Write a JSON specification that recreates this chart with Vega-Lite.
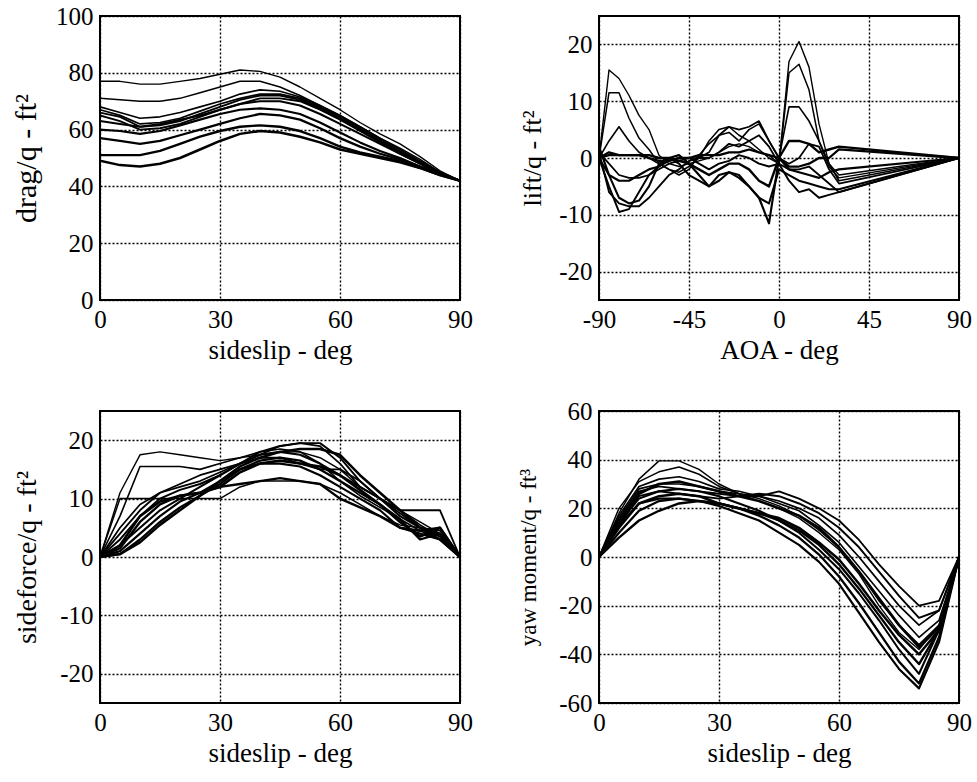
{
"$schema": "https://vega.github.io/schema/vega-lite/v6.json",
"background": "white",
"padding": {"left": 10, "top": 3, "right": 5, "bottom": 5},
"config": {
  "font": "Liberation Serif",
  "view": {"stroke": "black", "strokeWidth": 2},
  "axis": {"grid": true, "gridColor": "black", "gridDash": [2, 2], "gridWidth": 1.4, "gridOpacity": 1, "domain": false, "ticks": false,
    "labelFont": "Liberation Serif", "labelFontSize": 25, "labelColor": "black", "labelPadding": 7, "labelFlush": false, "labelOverlap": false, "labelExpr": "datum.value",
    "titleFont": "Liberation Serif", "titleFontSize": 27, "titleFontWeight": "normal", "titleColor": "black"},
  "axisX": {"titlePadding": 5},
  "line": {"color": "black", "strokeJoin": "round"}
},
"datasets": {
"drag": [
{"s":"a","x":0,"y":77},{"s":"a","x":5,"y":77},{"s":"a","x":10,"y":76},{"s":"a","x":15,"y":76},{"s":"a","x":20,"y":77},{"s":"a","x":25,"y":78},{"s":"a","x":30,"y":79.5},{"s":"a","x":35,"y":81},{"s":"a","x":40,"y":80.5},{"s":"a","x":45,"y":78.5},{"s":"a","x":50,"y":75},{"s":"a","x":55,"y":71},{"s":"a","x":60,"y":67},{"s":"a","x":65,"y":62.5},{"s":"a","x":70,"y":58.5},{"s":"a","x":75,"y":55},{"s":"a","x":80,"y":50.5},{"s":"a","x":85,"y":45.5},{"s":"a","x":90,"y":42},
{"s":"b","x":0,"y":71},{"s":"b","x":5,"y":70.5},{"s":"b","x":10,"y":70},{"s":"b","x":15,"y":70},{"s":"b","x":20,"y":71},{"s":"b","x":25,"y":73},{"s":"b","x":30,"y":75},{"s":"b","x":35,"y":77},{"s":"b","x":40,"y":77},{"s":"b","x":45,"y":75},{"s":"b","x":50,"y":72},{"s":"b","x":55,"y":68.5},{"s":"b","x":60,"y":65},{"s":"b","x":65,"y":61},{"s":"b","x":70,"y":57},{"s":"b","x":75,"y":53.5},{"s":"b","x":80,"y":49.5},{"s":"b","x":85,"y":45},{"s":"b","x":90,"y":42},
{"s":"c","x":0,"y":68},{"s":"c","x":5,"y":66},{"s":"c","x":10,"y":64},{"s":"c","x":15,"y":64.5},{"s":"c","x":20,"y":66},{"s":"c","x":25,"y":68},{"s":"c","x":30,"y":70},{"s":"c","x":35,"y":72.5},{"s":"c","x":40,"y":74},{"s":"c","x":45,"y":73.5},{"s":"c","x":50,"y":71.5},{"s":"c","x":55,"y":68.5},{"s":"c","x":60,"y":65},{"s":"c","x":65,"y":61},{"s":"c","x":70,"y":57},{"s":"c","x":75,"y":53},{"s":"c","x":80,"y":49},{"s":"c","x":85,"y":45},{"s":"c","x":90,"y":42},
{"s":"d","x":0,"y":67},{"s":"d","x":5,"y":65},{"s":"d","x":10,"y":62},{"s":"d","x":15,"y":62.5},{"s":"d","x":20,"y":64},{"s":"d","x":25,"y":66.5},{"s":"d","x":30,"y":69},{"s":"d","x":35,"y":71},{"s":"d","x":40,"y":72.5},{"s":"d","x":45,"y":72.5},{"s":"d","x":50,"y":71},{"s":"d","x":55,"y":68},{"s":"d","x":60,"y":64.5},{"s":"d","x":65,"y":60.5},{"s":"d","x":70,"y":56.5},{"s":"d","x":75,"y":52.5},{"s":"d","x":80,"y":48.5},{"s":"d","x":85,"y":45},{"s":"d","x":90,"y":42},
{"s":"e","x":0,"y":66},{"s":"e","x":5,"y":64.5},{"s":"e","x":10,"y":61},{"s":"e","x":15,"y":61.5},{"s":"e","x":20,"y":63},{"s":"e","x":25,"y":65.5},{"s":"e","x":30,"y":68},{"s":"e","x":35,"y":70.5},{"s":"e","x":40,"y":72},{"s":"e","x":45,"y":72},{"s":"e","x":50,"y":70.5},{"s":"e","x":55,"y":67.5},{"s":"e","x":60,"y":64},{"s":"e","x":65,"y":60},{"s":"e","x":70,"y":56},{"s":"e","x":75,"y":52},{"s":"e","x":80,"y":48.5},{"s":"e","x":85,"y":45},{"s":"e","x":90,"y":42},
{"s":"f","x":0,"y":65},{"s":"f","x":5,"y":63},{"s":"f","x":10,"y":60},{"s":"f","x":15,"y":60.5},{"s":"f","x":20,"y":62},{"s":"f","x":25,"y":64.5},{"s":"f","x":30,"y":67},{"s":"f","x":35,"y":69},{"s":"f","x":40,"y":71},{"s":"f","x":45,"y":71},{"s":"f","x":50,"y":70},{"s":"f","x":55,"y":67},{"s":"f","x":60,"y":63.5},{"s":"f","x":65,"y":59.5},{"s":"f","x":70,"y":55.5},{"s":"f","x":75,"y":51.5},{"s":"f","x":80,"y":48},{"s":"f","x":85,"y":44.5},{"s":"f","x":90,"y":42},
{"s":"g","x":0,"y":63},{"s":"g","x":5,"y":62},{"s":"g","x":10,"y":61},{"s":"g","x":15,"y":62},{"s":"g","x":20,"y":63.5},{"s":"g","x":25,"y":65},{"s":"g","x":30,"y":67},{"s":"g","x":35,"y":69},{"s":"g","x":40,"y":70},{"s":"g","x":45,"y":70},{"s":"g","x":50,"y":68.5},{"s":"g","x":55,"y":65.5},{"s":"g","x":60,"y":62},{"s":"g","x":65,"y":58.5},{"s":"g","x":70,"y":55},{"s":"g","x":75,"y":51.5},{"s":"g","x":80,"y":48},{"s":"g","x":85,"y":44.5},{"s":"g","x":90,"y":42},
{"s":"h","x":0,"y":60},{"s":"h","x":5,"y":59.5},{"s":"h","x":10,"y":58.5},{"s":"h","x":15,"y":59.5},{"s":"h","x":20,"y":61.5},{"s":"h","x":25,"y":63.5},{"s":"h","x":30,"y":65.5},{"s":"h","x":35,"y":67},{"s":"h","x":40,"y":67.5},{"s":"h","x":45,"y":67},{"s":"h","x":50,"y":65.5},{"s":"h","x":55,"y":62.5},{"s":"h","x":60,"y":59},{"s":"h","x":65,"y":55.5},{"s":"h","x":70,"y":52.5},{"s":"h","x":75,"y":50},{"s":"h","x":80,"y":47},{"s":"h","x":85,"y":44.5},{"s":"h","x":90,"y":42},
{"s":"i","x":0,"y":57},{"s":"i","x":5,"y":56},{"s":"i","x":10,"y":55},{"s":"i","x":15,"y":56},{"s":"i","x":20,"y":58},{"s":"i","x":25,"y":60},{"s":"i","x":30,"y":62},{"s":"i","x":35,"y":64},{"s":"i","x":40,"y":65.5},{"s":"i","x":45,"y":65},{"s":"i","x":50,"y":63.5},{"s":"i","x":55,"y":60.5},{"s":"i","x":60,"y":57},{"s":"i","x":65,"y":54},{"s":"i","x":70,"y":51.5},{"s":"i","x":75,"y":49.5},{"s":"i","x":80,"y":47},{"s":"i","x":85,"y":44.5},{"s":"i","x":90,"y":42},
{"s":"j","x":0,"y":51},{"s":"j","x":5,"y":51},{"s":"j","x":10,"y":51},{"s":"j","x":15,"y":52.5},{"s":"j","x":20,"y":55},{"s":"j","x":25,"y":57.5},{"s":"j","x":30,"y":59.5},{"s":"j","x":35,"y":61},{"s":"j","x":40,"y":61.5},{"s":"j","x":45,"y":61},{"s":"j","x":50,"y":59.5},{"s":"j","x":55,"y":57},{"s":"j","x":60,"y":54},{"s":"j","x":65,"y":52},{"s":"j","x":70,"y":50.5},{"s":"j","x":75,"y":49},{"s":"j","x":80,"y":46.5},{"s":"j","x":85,"y":44},{"s":"j","x":90,"y":42},
{"s":"k","x":0,"y":49},{"s":"k","x":5,"y":47.5},{"s":"k","x":10,"y":47},{"s":"k","x":15,"y":48},{"s":"k","x":20,"y":50},{"s":"k","x":25,"y":53},{"s":"k","x":30,"y":56},{"s":"k","x":35,"y":58.5},{"s":"k","x":40,"y":59.5},{"s":"k","x":45,"y":59},{"s":"k","x":50,"y":57.5},{"s":"k","x":55,"y":55.5},{"s":"k","x":60,"y":53},{"s":"k","x":65,"y":51.5},{"s":"k","x":70,"y":50},{"s":"k","x":75,"y":48.5},{"s":"k","x":80,"y":46.5},{"s":"k","x":85,"y":44},{"s":"k","x":90,"y":42}
],
"lift": [
{"s":"a","x":-90,"y":0},{"s":"a","x":-85,"y":15.5},{"s":"a","x":-80,"y":14},{"s":"a","x":-75,"y":11},{"s":"a","x":-70,"y":7.5},{"s":"a","x":-65,"y":5},{"s":"a","x":-60,"y":0.5},{"s":"a","x":-55,"y":-1},{"s":"a","x":-50,"y":-1.5},{"s":"a","x":-45,"y":-1},{"s":"a","x":-40,"y":-0.5},{"s":"a","x":-35,"y":0},{"s":"a","x":-30,"y":1},{"s":"a","x":-25,"y":2},{"s":"a","x":-20,"y":2.5},{"s":"a","x":-15,"y":2},{"s":"a","x":-10,"y":1},{"s":"a","x":-5,"y":0.5},{"s":"a","x":0,"y":-1},{"s":"a","x":5,"y":17},{"s":"a","x":10,"y":20.5},{"s":"a","x":15,"y":16},{"s":"a","x":20,"y":6},{"s":"a","x":25,"y":-1},{"s":"a","x":30,"y":-3},{"s":"a","x":90,"y":0},
{"s":"b","x":-90,"y":0},{"s":"b","x":-85,"y":11.5},{"s":"b","x":-80,"y":11.5},{"s":"b","x":-75,"y":7},{"s":"b","x":-70,"y":3.5},{"s":"b","x":-65,"y":1.5},{"s":"b","x":-60,"y":-1},{"s":"b","x":-55,"y":-2},{"s":"b","x":-50,"y":-2.5},{"s":"b","x":-45,"y":-1.5},{"s":"b","x":-40,"y":0},{"s":"b","x":-35,"y":3},{"s":"b","x":-30,"y":5},{"s":"b","x":-25,"y":5.5},{"s":"b","x":-20,"y":4},{"s":"b","x":-15,"y":3},{"s":"b","x":-10,"y":1.5},{"s":"b","x":-5,"y":0},{"s":"b","x":0,"y":-1},{"s":"b","x":5,"y":15},{"s":"b","x":10,"y":16.5},{"s":"b","x":15,"y":12},{"s":"b","x":20,"y":3},{"s":"b","x":25,"y":-1.5},{"s":"b","x":30,"y":-3.5},{"s":"b","x":90,"y":0},
{"s":"c","x":-90,"y":0},{"s":"c","x":-85,"y":3},{"s":"c","x":-80,"y":5.5},{"s":"c","x":-75,"y":3},{"s":"c","x":-70,"y":1},{"s":"c","x":-65,"y":0},{"s":"c","x":-60,"y":-1},{"s":"c","x":-55,"y":-2},{"s":"c","x":-50,"y":-3},{"s":"c","x":-45,"y":-2},{"s":"c","x":-40,"y":0.5},{"s":"c","x":-35,"y":2.5},{"s":"c","x":-30,"y":4},{"s":"c","x":-25,"y":4.5},{"s":"c","x":-20,"y":3},{"s":"c","x":-15,"y":5},{"s":"c","x":-10,"y":6},{"s":"c","x":-5,"y":3},{"s":"c","x":0,"y":0},{"s":"c","x":5,"y":9},{"s":"c","x":10,"y":9},{"s":"c","x":15,"y":6.5},{"s":"c","x":20,"y":3},{"s":"c","x":25,"y":-1},{"s":"c","x":30,"y":-4},{"s":"c","x":90,"y":0},
{"s":"d","x":-90,"y":1},{"s":"d","x":-85,"y":-1},{"s":"d","x":-80,"y":-3},{"s":"d","x":-75,"y":-3.5},{"s":"d","x":-70,"y":-3.5},{"s":"d","x":-65,"y":-3},{"s":"d","x":-60,"y":-2},{"s":"d","x":-55,"y":-1},{"s":"d","x":-50,"y":-0.5},{"s":"d","x":-45,"y":0},{"s":"d","x":-40,"y":0},{"s":"d","x":-35,"y":1},{"s":"d","x":-30,"y":4},{"s":"d","x":-25,"y":5.5},{"s":"d","x":-20,"y":5},{"s":"d","x":-15,"y":5.5},{"s":"d","x":-10,"y":6.5},{"s":"d","x":-5,"y":3},{"s":"d","x":0,"y":0},{"s":"d","x":5,"y":-1},{"s":"d","x":10,"y":0},{"s":"d","x":15,"y":2.5},{"s":"d","x":20,"y":2},{"s":"d","x":25,"y":-2},{"s":"d","x":30,"y":-4.5},{"s":"d","x":90,"y":0},
{"s":"e","x":-90,"y":1},{"s":"e","x":-85,"y":-6},{"s":"e","x":-80,"y":-8},{"s":"e","x":-75,"y":-8.5},{"s":"e","x":-70,"y":-8.5},{"s":"e","x":-65,"y":-7},{"s":"e","x":-60,"y":-5},{"s":"e","x":-55,"y":-3},{"s":"e","x":-50,"y":-2},{"s":"e","x":-45,"y":-0.5},{"s":"e","x":-40,"y":0},{"s":"e","x":-35,"y":0},{"s":"e","x":-30,"y":1},{"s":"e","x":-25,"y":2.5},{"s":"e","x":-20,"y":2},{"s":"e","x":-15,"y":3},{"s":"e","x":-10,"y":4},{"s":"e","x":-5,"y":2},{"s":"e","x":0,"y":-1},{"s":"e","x":5,"y":-2},{"s":"e","x":10,"y":-2},{"s":"e","x":15,"y":-1.5},{"s":"e","x":20,"y":-3},{"s":"e","x":25,"y":-4.5},{"s":"e","x":30,"y":-6},{"s":"e","x":90,"y":0},
{"s":"f","x":-90,"y":0},{"s":"f","x":-85,"y":-5},{"s":"f","x":-80,"y":-9.5},{"s":"f","x":-75,"y":-9},{"s":"f","x":-70,"y":-6},{"s":"f","x":-65,"y":-3},{"s":"f","x":-60,"y":-1.5},{"s":"f","x":-55,"y":-0.5},{"s":"f","x":-50,"y":0},{"s":"f","x":-45,"y":0},{"s":"f","x":-40,"y":-1},{"s":"f","x":-35,"y":-2},{"s":"f","x":-30,"y":-1},{"s":"f","x":-25,"y":-0.5},{"s":"f","x":-20,"y":0.5},{"s":"f","x":-15,"y":0},{"s":"f","x":-10,"y":-1},{"s":"f","x":-5,"y":-1.5},{"s":"f","x":0,"y":-1},{"s":"f","x":5,"y":-4},{"s":"f","x":10,"y":-6},{"s":"f","x":15,"y":-5.5},{"s":"f","x":20,"y":-7},{"s":"f","x":25,"y":-6.5},{"s":"f","x":30,"y":-6},{"s":"f","x":90,"y":0},
{"s":"g","x":-90,"y":0},{"s":"g","x":-85,"y":-3},{"s":"g","x":-80,"y":-7},{"s":"g","x":-75,"y":-8},{"s":"g","x":-70,"y":-7.5},{"s":"g","x":-65,"y":-5},{"s":"g","x":-60,"y":-1},{"s":"g","x":-55,"y":0},{"s":"g","x":-50,"y":-1},{"s":"g","x":-45,"y":-3},{"s":"g","x":-40,"y":-4},{"s":"g","x":-35,"y":-5},{"s":"g","x":-30,"y":-3},{"s":"g","x":-25,"y":-2.5},{"s":"g","x":-20,"y":-3.5},{"s":"g","x":-15,"y":-5},{"s":"g","x":-10,"y":-7},{"s":"g","x":-5,"y":-8},{"s":"g","x":0,"y":-2},{"s":"g","x":5,"y":-3},{"s":"g","x":10,"y":-4},{"s":"g","x":15,"y":-4.5},{"s":"g","x":20,"y":-5},{"s":"g","x":25,"y":-5.5},{"s":"g","x":30,"y":-5.5},{"s":"g","x":90,"y":0},
{"s":"h","x":-90,"y":2},{"s":"h","x":-85,"y":-3},{"s":"h","x":-80,"y":-4},{"s":"h","x":-75,"y":-4},{"s":"h","x":-70,"y":-3},{"s":"h","x":-65,"y":-2},{"s":"h","x":-60,"y":-1.5},{"s":"h","x":-55,"y":0},{"s":"h","x":-50,"y":0.5},{"s":"h","x":-45,"y":-1},{"s":"h","x":-40,"y":-3},{"s":"h","x":-35,"y":-5},{"s":"h","x":-30,"y":-4},{"s":"h","x":-25,"y":-2.5},{"s":"h","x":-20,"y":-3},{"s":"h","x":-15,"y":-5},{"s":"h","x":-10,"y":-7},{"s":"h","x":-5,"y":-11.5},{"s":"h","x":0,"y":0},{"s":"h","x":5,"y":-2},{"s":"h","x":10,"y":-2.5},{"s":"h","x":15,"y":-3},{"s":"h","x":20,"y":-3.5},{"s":"h","x":25,"y":-2.5},{"s":"h","x":30,"y":-2},{"s":"h","x":90,"y":0},
{"s":"i","x":-90,"y":0},{"s":"i","x":-85,"y":0.5},{"s":"i","x":-80,"y":0.5},{"s":"i","x":-75,"y":0.5},{"s":"i","x":-70,"y":0.5},{"s":"i","x":-65,"y":0},{"s":"i","x":-60,"y":-0.5},{"s":"i","x":-55,"y":-0.5},{"s":"i","x":-50,"y":0},{"s":"i","x":-45,"y":0},{"s":"i","x":-40,"y":0.5},{"s":"i","x":-35,"y":0.5},{"s":"i","x":-30,"y":0.5},{"s":"i","x":-25,"y":1},{"s":"i","x":-20,"y":1},{"s":"i","x":-15,"y":1.5},{"s":"i","x":-10,"y":1},{"s":"i","x":-5,"y":0.5},{"s":"i","x":0,"y":0},{"s":"i","x":5,"y":-1.5},{"s":"i","x":10,"y":-1.5},{"s":"i","x":15,"y":-1},{"s":"i","x":20,"y":0},{"s":"i","x":25,"y":0},{"s":"i","x":30,"y":1.5},{"s":"i","x":90,"y":0},
{"s":"j","x":-90,"y":0},{"s":"j","x":-85,"y":1},{"s":"j","x":-80,"y":0.5},{"s":"j","x":-75,"y":0.5},{"s":"j","x":-70,"y":0.5},{"s":"j","x":-65,"y":0.5},{"s":"j","x":-60,"y":0},{"s":"j","x":-55,"y":0},{"s":"j","x":-50,"y":-0.5},{"s":"j","x":-45,"y":-1},{"s":"j","x":-40,"y":-2},{"s":"j","x":-35,"y":-3},{"s":"j","x":-30,"y":-2},{"s":"j","x":-25,"y":-1},{"s":"j","x":-20,"y":-1},{"s":"j","x":-15,"y":-2},{"s":"j","x":-10,"y":-4},{"s":"j","x":-5,"y":-5},{"s":"j","x":0,"y":0},{"s":"j","x":5,"y":3},{"s":"j","x":10,"y":3},{"s":"j","x":15,"y":2.5},{"s":"j","x":20,"y":1},{"s":"j","x":25,"y":1.5},{"s":"j","x":30,"y":2},{"s":"j","x":90,"y":0}
],
"side": [
{"s":"a","x":0,"y":0},{"s":"a","x":5,"y":11},{"s":"a","x":10,"y":17.5},{"s":"a","x":15,"y":18},{"s":"a","x":20,"y":17.5},{"s":"a","x":25,"y":17},{"s":"a","x":30,"y":16.5},{"s":"a","x":35,"y":17},{"s":"a","x":40,"y":17.5},{"s":"a","x":45,"y":18},{"s":"a","x":50,"y":18},{"s":"a","x":55,"y":17},{"s":"a","x":60,"y":15},{"s":"a","x":65,"y":12},{"s":"a","x":70,"y":10},{"s":"a","x":75,"y":8},{"s":"a","x":80,"y":6},{"s":"a","x":85,"y":4},{"s":"a","x":90,"y":0},
{"s":"b","x":0,"y":0},{"s":"b","x":5,"y":10},{"s":"b","x":10,"y":10},{"s":"b","x":15,"y":10},{"s":"b","x":20,"y":10},{"s":"b","x":25,"y":10},{"s":"b","x":30,"y":10},{"s":"b","x":35,"y":12},{"s":"b","x":40,"y":13},{"s":"b","x":45,"y":13},{"s":"b","x":50,"y":13},{"s":"b","x":55,"y":12.5},{"s":"b","x":60,"y":11},{"s":"b","x":65,"y":9},{"s":"b","x":70,"y":7},{"s":"b","x":75,"y":5.5},{"s":"b","x":80,"y":5},{"s":"b","x":85,"y":4.5},{"s":"b","x":90,"y":0},
{"s":"c","x":0,"y":0},{"s":"c","x":5,"y":7},{"s":"c","x":10,"y":15.5},{"s":"c","x":15,"y":15.5},{"s":"c","x":20,"y":15.5},{"s":"c","x":25,"y":15},{"s":"c","x":30,"y":16},{"s":"c","x":35,"y":17},{"s":"c","x":40,"y":18},{"s":"c","x":45,"y":18.5},{"s":"c","x":50,"y":18},{"s":"c","x":55,"y":16},{"s":"c","x":60,"y":13},{"s":"c","x":65,"y":10.5},{"s":"c","x":70,"y":8.5},{"s":"c","x":75,"y":6.5},{"s":"c","x":80,"y":4.5},{"s":"c","x":85,"y":3},{"s":"c","x":90,"y":0},
{"s":"d","x":0,"y":0},{"s":"d","x":5,"y":5},{"s":"d","x":10,"y":9},{"s":"d","x":15,"y":11},{"s":"d","x":20,"y":12},{"s":"d","x":25,"y":13},{"s":"d","x":30,"y":14.5},{"s":"d","x":35,"y":16},{"s":"d","x":40,"y":17.5},{"s":"d","x":45,"y":19},{"s":"d","x":50,"y":19.5},{"s":"d","x":55,"y":19},{"s":"d","x":60,"y":16},{"s":"d","x":65,"y":12},{"s":"d","x":70,"y":10},{"s":"d","x":75,"y":8},{"s":"d","x":80,"y":5.5},{"s":"d","x":85,"y":3.5},{"s":"d","x":90,"y":0},
{"s":"e","x":0,"y":0},{"s":"e","x":5,"y":4},{"s":"e","x":10,"y":8},{"s":"e","x":15,"y":11},{"s":"e","x":20,"y":12.5},{"s":"e","x":25,"y":14},{"s":"e","x":30,"y":15},{"s":"e","x":35,"y":16},{"s":"e","x":40,"y":17},{"s":"e","x":45,"y":17},{"s":"e","x":50,"y":16},{"s":"e","x":55,"y":15},{"s":"e","x":60,"y":15},{"s":"e","x":65,"y":13},{"s":"e","x":70,"y":10},{"s":"e","x":75,"y":8},{"s":"e","x":80,"y":8},{"s":"e","x":85,"y":8},{"s":"e","x":90,"y":0},
{"s":"f","x":0,"y":0},{"s":"f","x":5,"y":3},{"s":"f","x":10,"y":7},{"s":"f","x":15,"y":10},{"s":"f","x":20,"y":11.5},{"s":"f","x":25,"y":12.5},{"s":"f","x":30,"y":14},{"s":"f","x":35,"y":16},{"s":"f","x":40,"y":18},{"s":"f","x":45,"y":19},{"s":"f","x":50,"y":19.5},{"s":"f","x":55,"y":19.5},{"s":"f","x":60,"y":17},{"s":"f","x":65,"y":13},{"s":"f","x":70,"y":10},{"s":"f","x":75,"y":7.5},{"s":"f","x":80,"y":5},{"s":"f","x":85,"y":3.5},{"s":"f","x":90,"y":0},
{"s":"g","x":0,"y":0},{"s":"g","x":5,"y":2},{"s":"g","x":10,"y":5},{"s":"g","x":15,"y":8},{"s":"g","x":20,"y":10},{"s":"g","x":25,"y":12},{"s":"g","x":30,"y":14},{"s":"g","x":35,"y":16},{"s":"g","x":40,"y":17.5},{"s":"g","x":45,"y":18},{"s":"g","x":50,"y":17.5},{"s":"g","x":55,"y":16},{"s":"g","x":60,"y":14},{"s":"g","x":65,"y":12},{"s":"g","x":70,"y":10},{"s":"g","x":75,"y":7},{"s":"g","x":80,"y":5},{"s":"g","x":85,"y":4},{"s":"g","x":90,"y":0},
{"s":"h","x":0,"y":0},{"s":"h","x":5,"y":1},{"s":"h","x":10,"y":4},{"s":"h","x":15,"y":7},{"s":"h","x":20,"y":9.5},{"s":"h","x":25,"y":11},{"s":"h","x":30,"y":13},{"s":"h","x":35,"y":15},{"s":"h","x":40,"y":16},{"s":"h","x":45,"y":16},{"s":"h","x":50,"y":15.5},{"s":"h","x":55,"y":14},{"s":"h","x":60,"y":12},{"s":"h","x":65,"y":10},{"s":"h","x":70,"y":8},{"s":"h","x":75,"y":5},{"s":"h","x":80,"y":4},{"s":"h","x":85,"y":3},{"s":"h","x":90,"y":0},
{"s":"i","x":0,"y":0},{"s":"i","x":5,"y":0.5},{"s":"i","x":10,"y":3},{"s":"i","x":15,"y":6},{"s":"i","x":20,"y":8.5},{"s":"i","x":25,"y":10.5},{"s":"i","x":30,"y":12.5},{"s":"i","x":35,"y":15},{"s":"i","x":40,"y":16.5},{"s":"i","x":45,"y":17},{"s":"i","x":50,"y":16.5},{"s":"i","x":55,"y":15},{"s":"i","x":60,"y":13},{"s":"i","x":65,"y":11},{"s":"i","x":70,"y":9},{"s":"i","x":75,"y":6.5},{"s":"i","x":80,"y":3},{"s":"i","x":85,"y":4},{"s":"i","x":90,"y":0},
{"s":"j","x":0,"y":0},{"s":"j","x":5,"y":1.5},{"s":"j","x":10,"y":6},{"s":"j","x":15,"y":9},{"s":"j","x":20,"y":10.5},{"s":"j","x":25,"y":11},{"s":"j","x":30,"y":12},{"s":"j","x":35,"y":12.5},{"s":"j","x":40,"y":13},{"s":"j","x":45,"y":13.5},{"s":"j","x":50,"y":13},{"s":"j","x":55,"y":12.5},{"s":"j","x":60,"y":10},{"s":"j","x":65,"y":8.5},{"s":"j","x":70,"y":7},{"s":"j","x":75,"y":5},{"s":"j","x":80,"y":4.5},{"s":"j","x":85,"y":5},{"s":"j","x":90,"y":0},
{"s":"k","x":0,"y":0},{"s":"k","x":5,"y":0.5},{"s":"k","x":10,"y":2.5},{"s":"k","x":15,"y":5.5},{"s":"k","x":20,"y":8},{"s":"k","x":25,"y":10.5},{"s":"k","x":30,"y":13},{"s":"k","x":35,"y":15.5},{"s":"k","x":40,"y":17},{"s":"k","x":45,"y":18},{"s":"k","x":50,"y":18.5},{"s":"k","x":55,"y":18.5},{"s":"k","x":60,"y":17.5},{"s":"k","x":65,"y":14},{"s":"k","x":70,"y":11},{"s":"k","x":75,"y":8},{"s":"k","x":80,"y":5},{"s":"k","x":85,"y":3},{"s":"k","x":90,"y":0},
{"s":"l","x":0,"y":0},{"s":"l","x":5,"y":2},{"s":"l","x":10,"y":7},{"s":"l","x":15,"y":9.5},{"s":"l","x":20,"y":10.5},{"s":"l","x":25,"y":11},{"s":"l","x":30,"y":12},{"s":"l","x":35,"y":14.5},{"s":"l","x":40,"y":16},{"s":"l","x":45,"y":16.5},{"s":"l","x":50,"y":16},{"s":"l","x":55,"y":15.5},{"s":"l","x":60,"y":14},{"s":"l","x":65,"y":11.5},{"s":"l","x":70,"y":9},{"s":"l","x":75,"y":6},{"s":"l","x":80,"y":3.5},{"s":"l","x":85,"y":5},{"s":"l","x":90,"y":0}
],
"yaw": [
{"s":"a","x":0,"y":0},{"s":"a","x":5,"y":18},{"s":"a","x":10,"y":32},{"s":"a","x":15,"y":39.5},{"s":"a","x":20,"y":39.5},{"s":"a","x":25,"y":36},{"s":"a","x":30,"y":30},{"s":"a","x":35,"y":26},{"s":"a","x":40,"y":23},{"s":"a","x":45,"y":20},{"s":"a","x":50,"y":16},{"s":"a","x":55,"y":10},{"s":"a","x":60,"y":3},{"s":"a","x":65,"y":-7},{"s":"a","x":70,"y":-20},{"s":"a","x":75,"y":-31},{"s":"a","x":80,"y":-38},{"s":"a","x":85,"y":-28},{"s":"a","x":90,"y":0},
{"s":"b","x":0,"y":0},{"s":"b","x":5,"y":20},{"s":"b","x":10,"y":31},{"s":"b","x":15,"y":35},{"s":"b","x":20,"y":37},{"s":"b","x":25,"y":34},{"s":"b","x":30,"y":29},{"s":"b","x":35,"y":26},{"s":"b","x":40,"y":24},{"s":"b","x":45,"y":21},{"s":"b","x":50,"y":17},{"s":"b","x":55,"y":11},{"s":"b","x":60,"y":4},{"s":"b","x":65,"y":-6},{"s":"b","x":70,"y":-18},{"s":"b","x":75,"y":-28},{"s":"b","x":80,"y":-36},{"s":"b","x":85,"y":-28},{"s":"b","x":90,"y":0},
{"s":"c","x":0,"y":0},{"s":"c","x":5,"y":17},{"s":"c","x":10,"y":29},{"s":"c","x":15,"y":32},{"s":"c","x":20,"y":33},{"s":"c","x":25,"y":31},{"s":"c","x":30,"y":28},{"s":"c","x":35,"y":27},{"s":"c","x":40,"y":25},{"s":"c","x":45,"y":22},{"s":"c","x":50,"y":19},{"s":"c","x":55,"y":13},{"s":"c","x":60,"y":6},{"s":"c","x":65,"y":-4},{"s":"c","x":70,"y":-14},{"s":"c","x":75,"y":-24},{"s":"c","x":80,"y":-33},{"s":"c","x":85,"y":-26},{"s":"c","x":90,"y":0},
{"s":"d","x":0,"y":0},{"s":"d","x":5,"y":16},{"s":"d","x":10,"y":28},{"s":"d","x":15,"y":30},{"s":"d","x":20,"y":30},{"s":"d","x":25,"y":29},{"s":"d","x":30,"y":27},{"s":"d","x":35,"y":26},{"s":"d","x":40,"y":25},{"s":"d","x":45,"y":23},{"s":"d","x":50,"y":20},{"s":"d","x":55,"y":16},{"s":"d","x":60,"y":9},{"s":"d","x":65,"y":0},{"s":"d","x":70,"y":-10},{"s":"d","x":75,"y":-20},{"s":"d","x":80,"y":-28},{"s":"d","x":85,"y":-22},{"s":"d","x":90,"y":0},
{"s":"e","x":0,"y":0},{"s":"e","x":5,"y":15},{"s":"e","x":10,"y":27},{"s":"e","x":15,"y":29},{"s":"e","x":20,"y":28},{"s":"e","x":25,"y":27},{"s":"e","x":30,"y":26},{"s":"e","x":35,"y":25},{"s":"e","x":40,"y":25},{"s":"e","x":45,"y":27},{"s":"e","x":50,"y":24},{"s":"e","x":55,"y":20},{"s":"e","x":60,"y":15},{"s":"e","x":65,"y":7},{"s":"e","x":70,"y":-3},{"s":"e","x":75,"y":-12},{"s":"e","x":80,"y":-20},{"s":"e","x":85,"y":-18},{"s":"e","x":90,"y":0},
{"s":"f","x":0,"y":0},{"s":"f","x":5,"y":13},{"s":"f","x":10,"y":25},{"s":"f","x":15,"y":27},{"s":"f","x":20,"y":26},{"s":"f","x":25,"y":25},{"s":"f","x":30,"y":24},{"s":"f","x":35,"y":25},{"s":"f","x":40,"y":26},{"s":"f","x":45,"y":25},{"s":"f","x":50,"y":22},{"s":"f","x":55,"y":18},{"s":"f","x":60,"y":12},{"s":"f","x":65,"y":4},{"s":"f","x":70,"y":-6},{"s":"f","x":75,"y":-16},{"s":"f","x":80,"y":-25},{"s":"f","x":85,"y":-22},{"s":"f","x":90,"y":0},
{"s":"g","x":0,"y":0},{"s":"g","x":5,"y":14},{"s":"g","x":10,"y":24},{"s":"g","x":15,"y":27},{"s":"g","x":20,"y":28},{"s":"g","x":25,"y":27},{"s":"g","x":30,"y":25},{"s":"g","x":35,"y":22},{"s":"g","x":40,"y":19},{"s":"g","x":45,"y":15},{"s":"g","x":50,"y":10},{"s":"g","x":55,"y":3},{"s":"g","x":60,"y":-5},{"s":"g","x":65,"y":-15},{"s":"g","x":70,"y":-26},{"s":"g","x":75,"y":-38},{"s":"g","x":80,"y":-48},{"s":"g","x":85,"y":-30},{"s":"g","x":90,"y":0},
{"s":"h","x":0,"y":0},{"s":"h","x":5,"y":13},{"s":"h","x":10,"y":22},{"s":"h","x":15,"y":24},{"s":"h","x":20,"y":24},{"s":"h","x":25,"y":23},{"s":"h","x":30,"y":21},{"s":"h","x":35,"y":18},{"s":"h","x":40,"y":15},{"s":"h","x":45,"y":10},{"s":"h","x":50,"y":5},{"s":"h","x":55,"y":-2},{"s":"h","x":60,"y":-11},{"s":"h","x":65,"y":-23},{"s":"h","x":70,"y":-35},{"s":"h","x":75,"y":-46},{"s":"h","x":80,"y":-54},{"s":"h","x":85,"y":-35},{"s":"h","x":90,"y":0},
{"s":"i","x":0,"y":0},{"s":"i","x":5,"y":10},{"s":"i","x":10,"y":19},{"s":"i","x":15,"y":23},{"s":"i","x":20,"y":24},{"s":"i","x":25,"y":23},{"s":"i","x":30,"y":22},{"s":"i","x":35,"y":20},{"s":"i","x":40,"y":17},{"s":"i","x":45,"y":13},{"s":"i","x":50,"y":8},{"s":"i","x":55,"y":1},{"s":"i","x":60,"y":-8},{"s":"i","x":65,"y":-19},{"s":"i","x":70,"y":-31},{"s":"i","x":75,"y":-43},{"s":"i","x":80,"y":-52},{"s":"i","x":85,"y":-33},{"s":"i","x":90,"y":0},
{"s":"j","x":0,"y":0},{"s":"j","x":5,"y":8},{"s":"j","x":10,"y":15},{"s":"j","x":15,"y":19},{"s":"j","x":20,"y":22},{"s":"j","x":25,"y":23},{"s":"j","x":30,"y":22},{"s":"j","x":35,"y":20},{"s":"j","x":40,"y":18},{"s":"j","x":45,"y":15},{"s":"j","x":50,"y":11},{"s":"j","x":55,"y":5},{"s":"j","x":60,"y":-3},{"s":"j","x":65,"y":-13},{"s":"j","x":70,"y":-24},{"s":"j","x":75,"y":-35},{"s":"j","x":80,"y":-44},{"s":"j","x":85,"y":-30},{"s":"j","x":90,"y":0},
{"s":"k","x":0,"y":0},{"s":"k","x":5,"y":12},{"s":"k","x":10,"y":22},{"s":"k","x":15,"y":25},{"s":"k","x":20,"y":26},{"s":"k","x":25,"y":25},{"s":"k","x":30,"y":22},{"s":"k","x":35,"y":20},{"s":"k","x":40,"y":18},{"s":"k","x":45,"y":16},{"s":"k","x":50,"y":12},{"s":"k","x":55,"y":6},{"s":"k","x":60,"y":-1},{"s":"k","x":65,"y":-11},{"s":"k","x":70,"y":-22},{"s":"k","x":75,"y":-32},{"s":"k","x":80,"y":-40},{"s":"k","x":85,"y":-30},{"s":"k","x":90,"y":0},
{"s":"l","x":0,"y":0},{"s":"l","x":5,"y":14},{"s":"l","x":10,"y":26},{"s":"l","x":15,"y":30},{"s":"l","x":20,"y":31},{"s":"l","x":25,"y":29},{"s":"l","x":30,"y":27},{"s":"l","x":35,"y":25},{"s":"l","x":40,"y":23},{"s":"l","x":45,"y":20},{"s":"l","x":50,"y":17},{"s":"l","x":55,"y":12},{"s":"l","x":60,"y":4},{"s":"l","x":65,"y":-6},{"s":"l","x":70,"y":-17},{"s":"l","x":75,"y":-28},{"s":"l","x":80,"y":-37},{"s":"l","x":85,"y":-29},{"s":"l","x":90,"y":0}
]
},
"bounds": "flush",
"columns": 2,
"spacing": {"row": 111, "column": 139},
"concat": [
  {"width": 360, "height": 284, "data": {"name": "drag"},
   "mark": {"type": "line", "clip": true},
   "encoding": {
    "x": {"field": "x", "type": "quantitative", "scale": {"domain": [0, 90], "nice": false, "zero": false}, "axis": {"values": [0, 30, 60, 90], "title": "sideslip - deg"}},
    "y": {"field": "y", "type": "quantitative", "scale": {"domain": [0, 100], "nice": false}, "axis": {"values": [0, 20, 40, 60, 80, 100], "title": "drag/q - ft²", "titlePadding": 14, "titleFontSize": 30}},
    "strokeWidth": {"field": "s", "type": "nominal", "scale": {"range": [1.4, 2.6, 2.0, 3.0, 2.8, 2.6, 1.8, 2.4, 2.2, 2.4, 2.7]}, "legend": null}
   }},
  {"width": 360, "height": 284, "data": {"name": "lift"},
   "mark": {"type": "line", "clip": true},
   "encoding": {
    "x": {"field": "x", "type": "quantitative", "scale": {"domain": [-90, 90], "nice": false, "zero": false}, "axis": {"values": [-90, -45, 0, 45, 90], "title": "AOA - deg"}},
    "y": {"field": "y", "type": "quantitative", "scale": {"domain": [-25, 25], "nice": false}, "axis": {"values": [-20, -10, 0, 10, 20], "title": "lift/q - ft²", "titlePadding": 13, "titleFontSize": 26}},
    "strokeWidth": {"field": "s", "type": "nominal", "scale": {"range": [3.0, 2.6, 2.2, 1.8, 2.4, 1.5, 2.6, 2.8, 1.8, 1.6]}, "legend": null}
   }},
  {"width": 360, "height": 292, "data": {"name": "side"},
   "mark": {"type": "line", "clip": true},
   "encoding": {
    "x": {"field": "x", "type": "quantitative", "scale": {"domain": [0, 90], "nice": false, "zero": false}, "axis": {"values": [0, 30, 60, 90], "title": "sideslip - deg"}},
    "y": {"field": "y", "type": "quantitative", "scale": {"domain": [-25, 25], "nice": false}, "axis": {"values": [-20, -10, 0, 10, 20], "title": "sideforce/q - ft²", "titlePadding": 18, "titleFontSize": 28}},
    "strokeWidth": {"field": "s", "type": "nominal", "scale": {"range": [2.8, 2.6, 1.8, 2.8, 2.0, 1.5, 2.6, 2.2, 1.5, 2.0, 2.4, 1.8]}, "legend": null}
   }},
  {"width": 360, "height": 292, "data": {"name": "yaw"},
   "mark": {"type": "line", "clip": true},
   "encoding": {
    "x": {"field": "x", "type": "quantitative", "scale": {"domain": [0, 90], "nice": false, "zero": false}, "axis": {"values": [0, 30, 60, 90], "title": "sideslip - deg"}},
    "y": {"field": "y", "type": "quantitative", "scale": {"domain": [-60, 60], "nice": false}, "axis": {"values": [-60, -40, -20, 0, 20, 40, 60], "title": "yaw moment/q - ft³", "titlePadding": 18, "titleFontSize": 23}},
    "strokeWidth": {"field": "s", "type": "nominal", "scale": {"range": [2.6, 2.2, 1.8, 2.8, 1.4, 1.5, 1.9, 2.8, 2.2, 1.5, 2.4, 3.0]}, "legend": null}
   }}
]
}
